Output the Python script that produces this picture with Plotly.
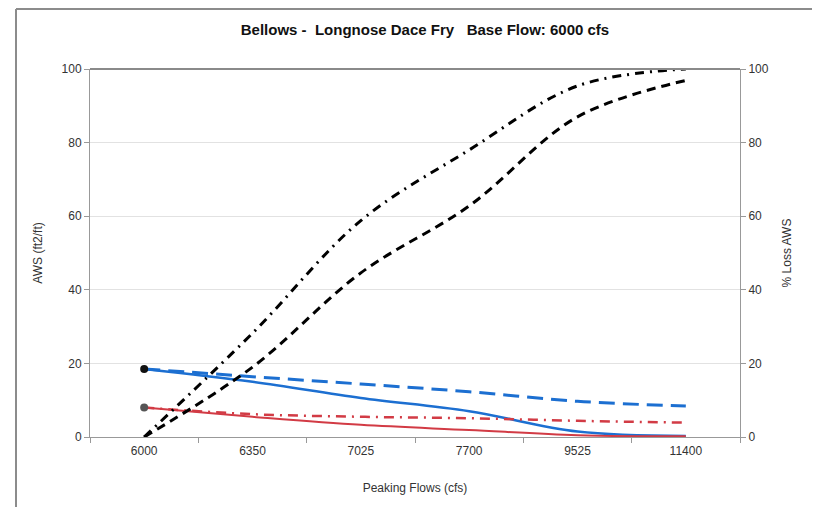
import plotly.graph_objects as go

# categorias del eje x (caudales pico)
flows = ["6000", "6350", "7025", "7700", "9525", "11400"]

# AWS (ft2/ft) - eje izquierdo
aws_blue = [18.5, 15.0, 10.6, 7.0, 1.5, 0.3]
aws_blue_dash = [18.5, 16.4, 14.4, 12.3, 9.7, 8.4]
aws_red = [8.0, 5.5, 3.3, 1.9, 0.5, 0.2]
aws_red_dashdot = [8.0, 6.2, 5.5, 5.1, 4.4, 3.9]

# % Loss AWS - eje derecho
loss_dash = [0.0, 19.0, 44.6, 62.8, 87.0, 96.9]
loss_dashdot = [0.0, 28.2, 58.8, 78.0, 95.4, 100.0]

# puntos de caudal base
base_flow = ["6000"]
base_blue = [18.5]
base_red = [8.0]

# la pagina deja 8px de margen en el body
OFF = 8
W, H = 820, 507
L, R, T, B = 82, 88, 61, 78
PW, PH = W - L - R, H - T - B


def px(x):
    # x en pixeles de pantalla -> coordenada paper
    return (x - OFF - L) / PW


def py(y):
    return (OFF + T + PH - y) / PH


FONT = "Arial, Liberation Sans, sans-serif"
BLUE = "#1c6fd1"
RED = "#d23b45"

fig = go.Figure()

fig.add_trace(go.Scatter(x=flows, y=aws_blue_dash, mode="lines",
                         line=dict(color=BLUE, width=3, dash="16px,8px", shape="spline"),
                         name="AWS dashed"))
fig.add_trace(go.Scatter(x=flows, y=aws_blue, mode="lines",
                         line=dict(color=BLUE, width=2.5, shape="spline"),
                         name="AWS"))
fig.add_trace(go.Scatter(x=flows, y=aws_red_dashdot, mode="lines",
                         line=dict(color=RED, width=2.5, dash="10px,6px,2px,6px", shape="spline"),
                         name="AWS red dashdot"))
fig.add_trace(go.Scatter(x=flows, y=aws_red, mode="lines",
                         line=dict(color=RED, width=2, shape="spline"),
                         name="AWS red"))
fig.add_trace(go.Scatter(x=flows, y=loss_dash, mode="lines", yaxis="y2",
                         line=dict(color="black", width=3, dash="9px,6px", shape="spline"),
                         name="% loss dash"))
fig.add_trace(go.Scatter(x=flows, y=loss_dashdot, mode="lines", yaxis="y2",
                         line=dict(color="black", width=3, dash="9px,6px,2px,6px", shape="spline"),
                         name="% loss dashdot"))
fig.add_trace(go.Scatter(x=base_flow, y=base_blue, mode="markers",
                         marker=dict(color="#111111", size=8), name="base blue"))
fig.add_trace(go.Scatter(x=base_flow, y=base_red, mode="markers",
                         marker=dict(color="#555555", size=8), name="base red"))

axis_font = dict(family=FONT, size=12, color="#333333")

fig.update_layout(
    width=W, height=H,
    margin=dict(l=L, r=R, t=T, b=B, autoexpand=False),
    paper_bgcolor="white", plot_bgcolor="white",
    showlegend=False,
    font=dict(family=FONT, color="#333333"),
    title=dict(text="<b>Bellows -  Longnose Dace Fry   Base Flow: 6000 cfs</b>",
               x=px(425), xref="paper", xanchor="center",
               y=1 - (30 - OFF) / H, yref="container", yanchor="middle",
               font=dict(family=FONT, size=15, color="#111111")),
    xaxis=dict(type="category", categoryorder="array", categoryarray=flows,
               range=[-0.5, 5.5], tickson="boundaries", ticks="outside", ticklen=5,
               tickcolor="#999999", showline=True, linecolor="#999999", linewidth=1,
               showgrid=False, zeroline=False, tickfont=axis_font,
               ticklabelstandoff=3,
               title=dict(text="Peaking Flows (cfs)", font=axis_font, standoff=26)),
    yaxis=dict(range=[0, 100], dtick=20, ticks="outside", ticklen=5, tickcolor="#999999",
               showline=True, linecolor="#999999", linewidth=1,
               gridcolor="#e2e2e2", zeroline=False, tickfont=axis_font,
               title=dict(text="AWS (ft2/ft)", font=axis_font, standoff=16)),
    yaxis2=dict(range=[0, 100], dtick=20, overlaying="y", side="right",
                ticks="outside", ticklen=5, tickcolor="#999999",
                showline=True, linecolor="#999999", linewidth=1,
                showgrid=False, zeroline=False, tickfont=axis_font,
                title=dict(text="% Loss AWS", font=axis_font, standoff=14)),
)

# linea superior mas oscura en 100
fig.add_shape(type="line", xref="paper", yref="paper", x0=0, x1=1, y0=1, y1=1,
              line=dict(color="#8a8a8a", width=2))
# marco de la imagen
fig.add_shape(type="line", xref="paper", yref="paper",
              x0=px(16), x1=px(W + 20), y0=py(9), y1=py(9),
              line=dict(color="#8c8c8c", width=2))
fig.add_shape(type="line", xref="paper", yref="paper",
              x0=px(16), x1=px(16), y0=py(9), y1=py(H + 20),
              line=dict(color="#8c8c8c", width=2))

fig.write_html("out.html")
